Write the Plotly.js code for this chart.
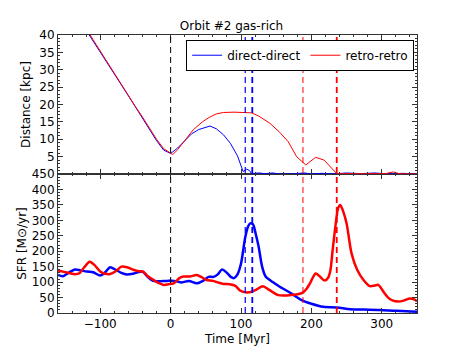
<!DOCTYPE html>
<html>
<head>
<meta charset="utf-8">
<script src="https://cdn.plot.ly/plotly-3.0.1.min.js"></script>
<style>
  body { margin: 0; background: white; }
  #chart { width: 463px; height: 348px; }
</style>
</head>
<body>
<div id="chart"></div>
<script>
// Orbit #2 gas-rich: separation (top) and star formation rate (bottom)

// distance [kpc] vs time [Myr]
const distTimeDirect = [-130, -120, -110, -100, -90, -80, -70, -60, -50, -40, -30, -20, -10, -5, 0, 10, 20, 30, 40, 50, 56, 65, 75, 85, 95, 103, 108, 112, 115, 125, 135, 145, 155, 170, 190, 200, 215, 230, 250, 270, 290, 310, 330, 350];
const distDirect     = [44.5, 41.4, 38.2, 35.1, 32.0, 28.9, 25.7, 22.5, 19.3, 16.2, 13.0, 9.6, 6.9, 6.3, 5.9, 7.5, 9.6, 11.6, 12.8, 13.4, 13.8, 13.0, 11.3, 8.8, 5.2, 0.7, 1.4, 1.0, 0.1, 0.3, 0.1, 0.3, 0.0, 0.0, 0.3, 0.0, 0.2, 0.0, 0.3, 0.1, 0.3, 0.0, 0.2, 0.0];

const distTimeRetro = [-130, -120, -110, -100, -90, -80, -70, -60, -50, -40, -30, -20, -10, 0, 3, 10, 20, 32, 45, 55, 65, 75, 90, 105, 115, 125, 141, 155, 167, 179, 192, 206, 218, 236, 250, 270, 290, 305, 316, 325, 350];
const distRetro     = [44.8, 41.9, 38.6, 35.4, 32.1, 29.0, 25.6, 22.7, 19.4, 16.4, 13.1, 10.0, 7.3, 6.0, 5.6, 7.0, 9.7, 12.7, 15.0, 16.3, 17.3, 17.7, 17.8, 17.8, 17.6, 16.7, 14.6, 12.0, 9.3, 5.0, 2.6, 4.8, 4.0, 0.1, 0.1, 0.2, 0.0, 0.1, 0.6, 0.1, 0.0];

// SFR [Msun/yr] vs time [Myr]
const sfrTimeDirect = [-160, -153, -145, -136, -128, -119, -110, -100, -93, -86, -78, -70, -62, -52, -40, -33, -25, -15, -5, 5, 16, 26, 37, 46, 54, 61, 67, 73, 80, 86, 90, 95, 100, 106, 110, 113, 117, 121, 125, 130, 135, 145, 155, 165, 175, 186, 200, 217, 236, 255, 275, 297, 320, 350];
const sfrDirect     = [123, 119, 130, 141, 138, 134, 132, 121, 132, 148, 140, 130, 125, 128, 134, 118, 104, 103, 104, 104, 99, 104, 96, 104, 117, 117, 125, 141, 130, 116, 113, 125, 160, 245, 280, 290, 287, 255, 215, 150, 118, 100, 85, 72, 58, 42, 30, 20, 18, 12, 11, 10, 7, 4];

const sfrTimeRetro = [-160, -153, -145, -138, -130, -122, -115, -108, -100, -93, -86, -78, -70, -62, -53, -45, -39, -33, -25, -18, -10, -3, 5, 12, 18, 27, 37, 44, 51, 60, 67, 75, 84, 92, 99, 106, 114, 122, 131, 140, 153, 165, 178, 188, 193, 198, 206, 212, 219, 224, 227, 230, 234, 238, 241, 245, 250, 257, 265, 274, 283, 290, 295, 302, 309, 316, 323, 331, 340, 346, 350];
const sfrRetro     = [138, 134, 130, 126, 128, 150, 166, 155, 134, 127, 126, 135, 150, 148, 140, 135, 134, 120, 108, 98, 91, 93, 97, 112, 118, 118, 123, 116, 107, 104, 99, 94, 93, 88, 72, 67, 68, 76, 87, 75, 58, 57, 60, 66, 78, 96, 128, 118, 105, 115, 139, 200, 279, 340, 350, 330, 290, 193, 140, 107, 87, 89, 91, 70, 50, 40, 37, 40, 47, 44, 38];

// event markers (vertical dashed lines)
const eventTimes  = [0, 106, 116, 188, 236];
const eventColors = ['black', 'blue', 'blue', 'red', 'red'];
const eventWidths = [1, 1.2, 1.8, 1, 1.8];

const seriesNames = ['direct-direct', 'retro-retro'];
const chartTitle = 'Orbit #2 gas-rich';

const FONT = 'DejaVu Sans, sans-serif';

const traces = [
    {
        x: distTimeDirect, y: distDirect, xaxis: 'x2', yaxis: 'y2',
        type: 'scatter', mode: 'lines', name: seriesNames[0],
        line: { color: '#0000ff', width: 1 }
    },
    {
        x: distTimeRetro, y: distRetro, xaxis: 'x2', yaxis: 'y2',
        type: 'scatter', mode: 'lines', name: seriesNames[1],
        line: { color: '#ff0000', width: 1 }
    },
    {
        x: sfrTimeDirect, y: sfrDirect, xaxis: 'x', yaxis: 'y',
        type: 'scatter', mode: 'lines', showlegend: false,
        line: { color: '#0000ff', width: 2.5, shape: 'spline', smoothing: 0.8 }
    },
    {
        x: sfrTimeRetro, y: sfrRetro, xaxis: 'x', yaxis: 'y',
        type: 'scatter', mode: 'lines', showlegend: false,
        line: { color: '#ff0000', width: 2.5, shape: 'spline', smoothing: 0.8 }
    }
];

const shapes = eventTimes.map((t, i) => ({
    type: 'line', xref: 'x', yref: 'paper',
    x0: t, x1: t, y0: 0, y1: 1,
    line: { color: eventColors[i], width: eventWidths[i], dash: '6px,4px' }
}));

const axisStyle = {
    showline: true, linecolor: '#333', linewidth: 1, mirror: 'allticks',
    ticks: 'inside', ticklen: 5, tickcolor: '#333', showgrid: false, zeroline: false,
    tickfont: { family: FONT, size: 12, color: 'black' }
};

const layout = {
    width: 463, height: 348,
    margin: { l: 58, r: 46, t: 35, b: 35 },
    paper_bgcolor: 'white', plot_bgcolor: 'white',
    font: { family: FONT, size: 12, color: 'black' },
    title: { text: chartTitle, x: 0.5, xanchor: 'center', yref: 'container', y: 0.925, yanchor: 'middle', font: { family: FONT, size: 12 } },
    showlegend: true,
    legend: {
        orientation: 'h', x: 0.357, xanchor: 'left', y: 0.983, yanchor: 'top',
        bordercolor: 'black', borderwidth: 1, bgcolor: 'white',
        font: { family: FONT, size: 12 }, tracegroupgap: 0,
        itemwidth: 30
    },
    xaxis: Object.assign({}, axisStyle, {
        domain: [0, 1], anchor: 'y', range: [-160, 350],
        tickvals: [-100, 0, 100, 200, 300], ticktext: ['\u2212100', '0', '100', '200', '300'],
        minor: { ticks: 'inside', ticklen: 2, dtick: 20, tick0: 0, tickcolor: '#333' },
        title: { text: 'Time [Myr]', standoff: 4, font: { family: FONT, size: 12 } }
    }),
    xaxis2: Object.assign({}, axisStyle, {
        domain: [0, 1], anchor: 'y2', matches: 'x', range: [-160, 350],
        tickvals: [-100, 0, 100, 200, 300], showticklabels: false,
        minor: { ticks: 'inside', ticklen: 2, dtick: 20, tick0: 0, tickcolor: '#333' }
    }),
    yaxis: Object.assign({}, axisStyle, {
        domain: [0, 0.5], anchor: 'x', range: [0, 450], dtick: 50, tick0: 0,
        minor: { ticks: 'inside', ticklen: 2, dtick: 10, tickcolor: '#333' },
        title: { text: 'SFR [M\u2299/yr]', standoff: 2, font: { family: FONT, size: 12 } }
    }),
    yaxis2: Object.assign({}, axisStyle, {
        domain: [0.5, 1], anchor: 'x2', range: [0, 40],
        tickvals: [5, 10, 15, 20, 25, 30, 35, 40],
        minor: { ticks: 'inside', ticklen: 2, dtick: 1, tickcolor: '#333' },
        title: { text: 'Distance [kpc]', standoff: 6, font: { family: FONT, size: 12 } }
    }),
    shapes: shapes
};

Plotly.newPlot('chart', traces, layout, { displayModeBar: false, staticPlot: true });
</script>
</body>
</html>
